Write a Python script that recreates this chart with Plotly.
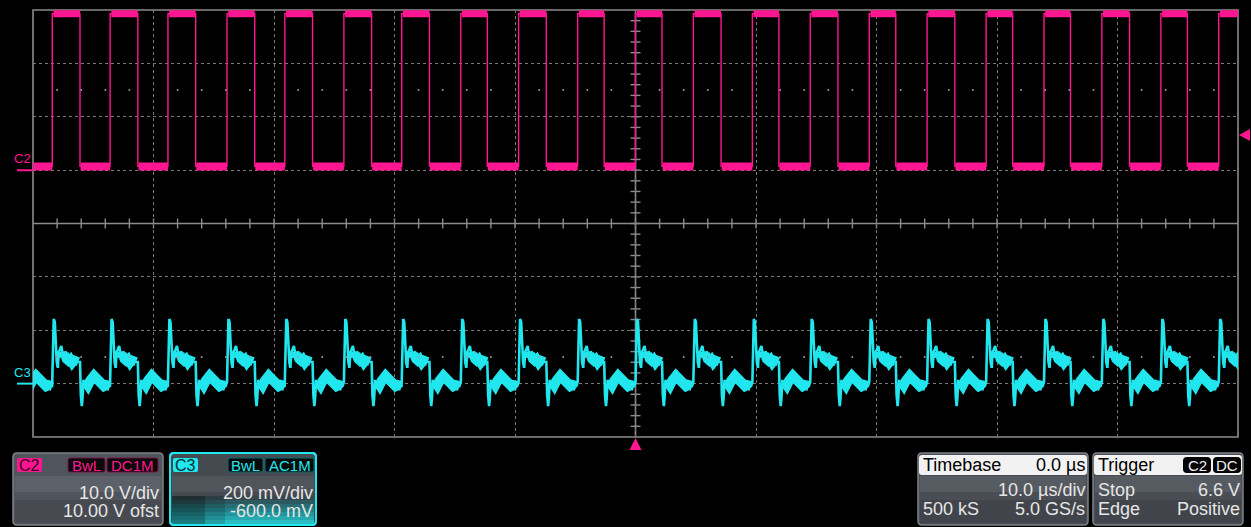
import numpy as np
import plotly.graph_objects as go

TIME_RANGE_US = [-50.0, 50.0]          # 10 div x 10 us/div
C2_RANGE_V = [-10.0, 30.0]             # 4 div x 10 V/div, centre 10 V
C3_RANGE_MV = [-1000.0, -200.0]        # 4 div x 200 mV/div, centre -600 mV

C2_RISE_US = [-48.4, -43.6, -38.8, -33.9, -29.1, -24.2, -19.4, -14.5, -9.7, -4.8,
              0.0, 4.8, 9.7, 14.5, 19.4, 24.2, 29.1, 33.9, 38.7, 43.6, 48.4]
C2_FALL_US = [-50.9, -46.1, -41.3, -36.5, -31.6, -26.8, -21.9, -17.1, -12.3, -7.4,
              -2.6, 2.2, 7.1, 11.9, 16.8, 21.6, 26.5, 31.3, 36.1, 41.0, 45.8]
C2_HIGH_V = 29.3
C2_LOW_V = 0.7
C2_MARKER_V = 0.0
TRIG_LEVEL_V = 6.6
TRIG_TIME_US = 0.0

# C3 shape after each C2 rising edge (time offset us, value mV)
C3_HIGH_DT = [0.00, 0.07, 0.12, 0.21, 0.29, 0.37, 0.46, 0.54, 0.62, 0.75,
              0.83, 0.91, 1.00, 1.16, 1.33, 1.49, 1.66, 1.83, 1.99, 2.16]
C3_HIGH_MV = [-794, -655, -558, -569, -674, -719, -741, -681, -674, -659,
              -680, -700, -688, -708, -715, -708, -722, -712, -718, -718]
# C3 shape after each C2 falling edge
C3_LOW_DT = [0.00, 0.07, 0.15, 0.21, 0.29, 0.37, 0.50, 0.66, 0.83, 1.00,
             1.16, 1.33, 1.49, 1.66, 1.83, 1.99, 2.16, 2.32, 2.49]
C3_LOW_MV = [-719, -843, -884, -854, -786, -816, -794, -805, -790, -779,
             -771, -779, -786, -798, -801, -809, -805, -813, -809]
C3_MARKER_MV = -800

C2_INFO = ["10.0 V/div", "10.00 V ofst"]
C3_INFO = ["200 mV/div", "-600.0 mV"]
TB_INFO = ["Timebase", "0.0 µs", "10.0 µs/div", "500 kS", "5.0 GS/s"]
TRIG_INFO = ["Trigger", "C2", "DC", "Stop", "6.6 V", "Edge", "Positive"]

PINK = "#ff1690"
CYAN = "#22e6ee"
GRID = "#7a7a7a"
BORDER = "#8c8c8c"
FONT = "Liberation Sans, Arial, sans-serif"

# ---------------- build C2 trace ----------------
events = sorted([(t, 1) for t in C2_RISE_US] + [(t, 0) for t in C2_FALL_US])
level = C2_LOW_V if events[0][1] == 1 else C2_HIGH_V
c2x, c2y = [TIME_RANGE_US[0] - 3], [level]
for t, k in events:
    new = C2_HIGH_V if k == 1 else C2_LOW_V
    c2x += [t, t]
    c2y += [level, new]
    level = new
c2x.append(TIME_RANGE_US[1] + 3)
c2y.append(level)

# level bands (thick, noisy plateaus)
hx, hy, lx, ly = [], [], [], []
for i, (t, k) in enumerate(events):
    t_end = events[i + 1][0] if i + 1 < len(events) else TIME_RANGE_US[1] + 3
    if k == 1:
        hx += [t + 0.1, t_end, None]
        hy += [C2_HIGH_V, C2_HIGH_V, None]
    else:
        lx += [t + 0.05, t_end, None]
        ly += [C2_LOW_V, C2_LOW_V, None]

# ---------------- build C3 trace ----------------
segs = sorted([(t, C3_HIGH_DT, C3_HIGH_MV) for t in C2_RISE_US] +
              [(t, C3_LOW_DT, C3_LOW_MV) for t in C2_FALL_US], key=lambda s: s[0])
c3x, c3y = [], []
b3x, b3y, b4x, b4y = [], [], [], []
for t, dts, vals in segs:
    c3x += [t + d for d in dts]
    c3y += list(vals)
    high = dts is C3_HIGH_DT
    start = 0.83 if high else 0.5
    tx, ty = (b3x, b3y) if high else (b4x, b4y)
    for d, v in zip(dts, vals):
        if d >= start:
            tx.append(t + d)
            ty.append(v)
    tx.append(None)
    ty.append(None)

fig = go.Figure()
fig.add_trace(go.Scatter(x=c2x, y=c2y, yaxis="y2", mode="lines",
                         line=dict(color=PINK, width=1.4), hoverinfo="skip"))
fig.add_trace(go.Scatter(x=hx, y=hy, yaxis="y2", mode="lines",
                         line=dict(color=PINK, width=7), hoverinfo="skip"))
fig.add_trace(go.Scatter(x=lx, y=ly, yaxis="y2", mode="lines",
                         line=dict(color=PINK, width=8), hoverinfo="skip"))
fig.add_trace(go.Scatter(x=c3x, y=c3y, yaxis="y", mode="lines",
                         line=dict(color=CYAN, width=2.6), hoverinfo="skip"))
fig.add_trace(go.Scatter(x=b3x, y=b3y, yaxis="y", mode="lines",
                         line=dict(color=CYAN, width=9), hoverinfo="skip"))
fig.add_trace(go.Scatter(x=b4x, y=b4y, yaxis="y", mode="lines",
                         line=dict(color=CYAN, width=10), hoverinfo="skip"))

# grid mid-row dots
dots_x = [v for v in np.arange(-48, 50, 2) if abs(v) % 10 != 0]
fig.add_trace(go.Scatter(x=dots_x, y=[15.0] * len(dots_x), yaxis="y2", mode="markers",
                         marker=dict(color="#9a9a9a", size=2), hoverinfo="skip"))
fig.add_trace(go.Scatter(x=dots_x, y=[-700.0] * len(dots_x), yaxis="y", mode="markers",
                         marker=dict(color="#9a9a9a", size=2), hoverinfo="skip"))

# ---------------- layout ----------------
L, T, R, B = 33, 10, 1238, 437
W, H = 1251, 527


def X(p):
    return (p - L) / (R - L)


def Y(p):
    return (B - p) / (B - T)


shapes = []
# borders
shapes.append(dict(type="rect", xref="paper", yref="paper", x0=0, x1=1, y0=0, y1=1,
                   line=dict(color=BORDER, width=1.6), layer="between"))
shapes.append(dict(type="line", xref="paper", yref="paper", x0=0, x1=1, y0=0.5, y1=0.5,
                   line=dict(color=BORDER, width=1.6), layer="between"))
shapes.append(dict(type="line", xref="x", yref="paper", x0=0, x1=0, y0=0, y1=1,
                   line=dict(color=BORDER, width=1.6), layer="between"))
for t in np.arange(-48, 50, 2):
    shapes.append(dict(type="line", xref="x", yref="paper", ysizemode="pixel", yanchor=0.5,
                       x0=t, x1=t, y0=-5, y1=5, line=dict(color=BORDER, width=1.4),
                       layer="between"))
for k in range(1, 40):
    shapes.append(dict(type="line", xref="x", yref="paper", xsizemode="pixel", xanchor=0,
                       x0=-5, x1=5, y0=k / 40, y1=k / 40, line=dict(color=BORDER, width=1.4),
                       layer="between"))

# channel ground markers
shapes.append(dict(type="line", xref="paper", yref="y2", x0=X(17), x1=X(33),
                   y0=C2_MARKER_V, y1=C2_MARKER_V, line=dict(color=PINK, width=2)))
shapes.append(dict(type="line", xref="paper", yref="y", x0=X(17), x1=X(33),
                   y0=C3_MARKER_MV, y1=C3_MARKER_MV, line=dict(color=CYAN, width=2)))
# trigger markers
shapes.append(dict(type="path", xref="paper", yref="y2", xsizemode="pixel", ysizemode="pixel",
                   xanchor=1, yanchor=TRIG_LEVEL_V, path="M 1,0 L 12,6 L 12,-6 Z",
                   fillcolor=PINK, line=dict(width=0), layer="above"))
shapes.append(dict(type="path", xref="x", yref="paper", xsizemode="pixel", ysizemode="pixel",
                   xanchor=TRIG_TIME_US, yanchor=0, path="M -6,-13 L 6,-13 L 0,-1 Z",
                   fillcolor=PINK, line=dict(width=0), layer="above"))


def rrect(x0, y0, x1, y1, fill, line_color=None, lw=1.5, r=4, opacity=1.0):
    rx, ry = r / (R - L), r / (B - T)
    a0, a1, b0, b1 = X(x0), X(x1), Y(y1), Y(y0)
    p = (f"M {a0 + rx},{b0} L {a1 - rx},{b0} Q {a1},{b0} {a1},{b0 + ry} "
         f"L {a1},{b1 - ry} Q {a1},{b1} {a1 - rx},{b1} L {a0 + rx},{b1} "
         f"Q {a0},{b1} {a0},{b1 - ry} L {a0},{b0 + ry} Q {a0},{b0} {a0 + rx},{b0} Z")
    return dict(type="path", xref="paper", yref="paper", path=p, fillcolor=fill,
                opacity=opacity,
                line=dict(color=line_color or fill, width=lw if line_color else 0),
                layer="above")


def rect(x0, y0, x1, y1, fill, opacity=1.0):
    return dict(type="rect", xref="paper", yref="paper", x0=X(x0), x1=X(x1),
                y0=Y(y1), y1=Y(y0), fillcolor=fill, opacity=opacity,
                line=dict(width=0), layer="above")


ann = []


def text(x, y, s, color="#e6e6e6", size=18, anchor="right"):
    ann.append(dict(xref="paper", yref="paper", x=X(x), y=Y(y), text=s, showarrow=False,
                    xanchor=anchor, yanchor="middle",
                    font=dict(family=FONT, size=size, color=color)))


# C2 box
shapes.append(rrect(13, 453, 163, 525, "#50545c", "#7e8188", 1.5))
shapes.append(rect(15, 476, 161, 492, "#5c6068"))
shapes.append(rect(15, 500, 161, 523, "#474a51"))
shapes.append(rrect(17, 458, 42, 472, PINK, r=2))
shapes.append(rrect(68, 458, 105, 472, "#0a0a0a", "#7a1046", 1, r=2))
shapes.append(rrect(107, 458, 158, 472, "#0a0a0a", "#7a1046", 1, r=2))
text(29.5, 465.5, "C2", "#3a0020", 16, "center")
text(86.5, 465.5, "BwL", PINK, 15, "center")
text(132.5, 465.5, "DC1M", PINK, 15, "center")
text(161, 493, C2_INFO[0])
text(161, 511, C2_INFO[1])

# C3 box with teal glow at the bottom
shapes.append(rrect(170, 453, 316, 525, "#454950", CYAN, 2))
shapes.append(rect(172, 476, 314, 492, "#50545b"))
glow = ["#34484e", "#2c5a60", "#276d73", "#228188", "#22959b", "#26a9af", "#2bbcc1"]
for i, c in enumerate(glow):
    shapes.append(rect(172, 496 + 4 * i, 314, 500 + 4 * i + (1 if i == len(glow) - 1 else 0), c))
shapes.append(rect(172, 496, 205, 524, "#000000", 0.35))
shapes.append(rect(205, 496, 225, 524, "#000000", 0.15))
shapes.append(rrect(170, 453, 316, 525, "rgba(0,0,0,0)", CYAN, 2))
shapes.append(rrect(173, 458, 198, 472, CYAN, r=2))
shapes.append(rrect(228, 458, 263, 472, "#0a0a0a", "#0f6a70", 1, r=2))
shapes.append(rrect(265, 458, 314, 472, "#0a0a0a", "#0f6a70", 1, r=2))
text(185.5, 465.5, "C3", "#003035", 16, "center")
text(245.5, 465.5, "BwL", CYAN, 15, "center")
text(289.5, 465.5, "AC1M", CYAN, 15, "center")
text(315, 493, C3_INFO[0])
text(315, 511, C3_INFO[1])

# Timebase box
shapes.append(rrect(918, 453, 1088, 525, "#4a4d54", "#7e8188", 1.5))
shapes.append(rect(920, 476, 1086, 492, "#565a61"))
shapes.append(rect(920, 500, 1086, 523, "#41444a"))
shapes.append(rrect(919, 455, 1087, 475, "#f2f2f2", r=3))
text(921, 465, TB_INFO[0], "#000000", 18, "left")
text(1087, 465, TB_INFO[1], "#000000", 18, "right")
text(1087, 490, TB_INFO[2])
text(921, 509, TB_INFO[3], anchor="left")
text(1087, 509, TB_INFO[4])

# Trigger box
shapes.append(rrect(1093, 453, 1243, 525, "#4a4d54", "#7e8188", 1.5))
shapes.append(rect(1095, 476, 1241, 492, "#565a61"))
shapes.append(rect(1095, 500, 1241, 523, "#41444a"))
shapes.append(rrect(1094, 455, 1242, 475, "#f2f2f2", r=3))
shapes.append(rrect(1183, 457, 1211, 473, "#050505", r=4))
shapes.append(rrect(1213, 457, 1241, 473, "#050505", r=4))
text(1096, 465, TRIG_INFO[0], "#000000", 18, "left")
text(1197, 465.5, TRIG_INFO[1], "#f0f0f0", 15, "center")
text(1227, 465.5, TRIG_INFO[2], "#f0f0f0", 15, "center")
text(1096, 490, TRIG_INFO[3], anchor="left")
text(1242, 490, TRIG_INFO[4])
text(1096, 509, TRIG_INFO[5], anchor="left")
text(1242, 509, TRIG_INFO[6])

# channel labels at left
text(22, 158, "C2", PINK, 13, "center")
text(22, 372, "C3", CYAN, 13, "center")

axis_common = dict(showticklabels=False, ticks="", showgrid=True, gridcolor=GRID,
                   griddash="dot", gridwidth=1, zeroline=False, showline=False,
                   fixedrange=True)
fig.update_layout(
    width=W, height=H, autosize=False,
    margin=dict(l=L, r=W - R, t=T, b=H - B),
    paper_bgcolor="black", plot_bgcolor="black", showlegend=False,
    xaxis=dict(range=TIME_RANGE_US, dtick=10, tick0=0, **axis_common),
    yaxis=dict(domain=[0, 0.5], range=C3_RANGE_MV, dtick=200, tick0=-1000,
               anchor="x", **axis_common),
    yaxis2=dict(domain=[0.5, 1], range=C2_RANGE_V, dtick=10, tick0=-10,
                anchor="x", **axis_common),
    shapes=shapes, annotations=ann,
)
fig.write_html("out.html", config={"displayModeBar": False})
